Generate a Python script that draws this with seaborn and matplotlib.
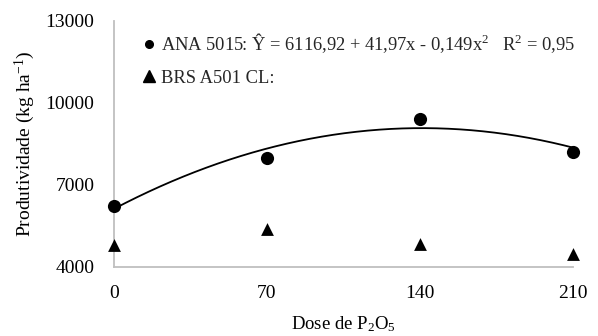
import numpy as np
import pandas as pd
import matplotlib
matplotlib.use("Agg")
import matplotlib.pyplot as plt
from matplotlib.lines import Line2D
import seaborn as sns

# Data
doses = [0, 70, 140, 210]
ana_5015 = [6230, 7980, 9400, 8210]
brs_a501 = [4790, 5380, 4830, 4470]
x_ticks = [0, 70, 140, 210]
y_ticks = [4000, 7000, 10000, 13000]
coef_b0, coef_b1, coef_b2 = 6116.92, 41.97, -0.149
label_ana = "ANA 5015: Ŷ = 6116,92 + 41,97x - 0,149x$^2$   R$^2$ = 0,95"
label_brs = "BRS A501 CL:"

sns.set_theme(style="white")
plt.rcParams['font.family'] = ['Liberation Serif', 'DejaVu Serif']
plt.rcParams['mathtext.fontset'] = 'custom'
plt.rcParams['mathtext.rm'] = 'Liberation Serif'
plt.rcParams['mathtext.it'] = 'Liberation Serif:italic'

fig = plt.figure(figsize=(5.98, 3.36), dpi=100)
ax = fig.add_axes([0.1906, 0.2063, 0.958 - 0.1906, 0.938 - 0.2063])

xs = np.linspace(0, 210, 200)
curve = pd.DataFrame({"x": xs, "y": coef_b0 + coef_b1 * xs + coef_b2 * xs ** 2})
sns.lineplot(data=curve, x="x", y="y", ax=ax, color="black", linewidth=1.3, clip_on=False)

df = pd.DataFrame({"dose": doses, "ana": ana_5015, "brs": brs_a501})
sns.scatterplot(data=df, x="dose", y="ana", ax=ax, marker="o", s=90, color="black",
                edgecolor="black", linewidth=0, clip_on=False, zorder=5)
sns.scatterplot(data=df, x="dose", y="brs", ax=ax, marker="^", s=85, color="black",
                edgecolor="black", linewidth=0, clip_on=False, zorder=5)

ax.set_xlim(0, 210)
ax.set_ylim(4000, 13000)
ax.set_xticks(x_ticks)
ax.set_xticklabels([str(v) for v in x_ticks])
ax.set_yticks(y_ticks)
ax.set_yticklabels([str(v) for v in y_ticks])
ax.tick_params(axis='both', length=0, labelsize=14, colors='black')
ax.tick_params(axis='x', pad=13)
ax.tick_params(axis='y', pad=14)

for side in ['top', 'right']:
    ax.spines[side].set_visible(False)
for side in ['left', 'bottom']:
    ax.spines[side].set_color('#BFBFBF')
    ax.spines[side].set_linewidth(1.3)

ax.set_xlabel("Dose de P$_2$O$_5$", fontsize=13.5, color='black', labelpad=9)
ax.set_ylabel("Produtividade (kg ha$^{-1}$)", fontsize=14, color='black', labelpad=6)

handles = [Line2D([], [], marker='o', color='black', linestyle='None', markersize=5.5),
           Line2D([], [], marker='^', color='black', linestyle='None', markersize=8)]
ax.legend(handles, [label_ana, label_brs], loc='upper left', bbox_to_anchor=(0.035, 1.01),
          frameon=False, fontsize=13.3, handlelength=0.6, handletextpad=0.35,
          labelspacing=0.8, borderaxespad=0.3)

fig.savefig("out.png", dpi=100)
